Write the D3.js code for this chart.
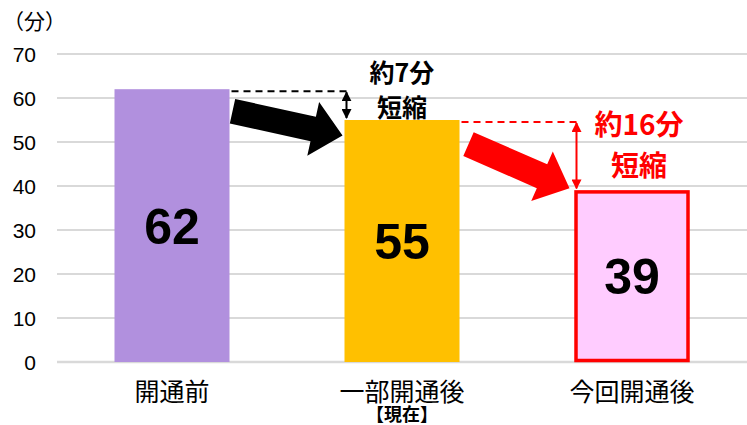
<!DOCTYPE html>
<html>
<head>
<meta charset="utf-8">
<script src="https://cdn.jsdelivr.net/npm/d3@7"></script>
<style>
  body { margin: 0; background: #fff; }
  text { font-family: "Liberation Sans", "Noto Sans CJK JP", sans-serif; }
  .jp { font-family: "Noto Sans CJK JP", sans-serif; }
</style>
</head>
<body>
<div id="chart"></div>
<script>
/* DATA */
const categories = ["開通前", "一部開通後", "今回開通後"];
const values = [62, 55, 39];
const barColors = ["#B190DE", "#FFC000", "#FFCCFF"];
const yTicks = [0, 10, 20, 30, 40, 50, 60, 70];
const unitLabel = "（分）";
const subLabel = "【現在】";
const note1 = ["約7分", "短縮"];
const note2 = ["約16分", "短縮"];

/* LAYOUT */
const width = 747, height = 425;
const margin = { top: 54, right: 0, bottom: 63, left: 57 };

const svg = d3.select("#chart").append("svg")
  .attr("width", width)
  .attr("height", height);

const x = d3.scaleBand()
  .domain(categories)
  .range([margin.left, width - margin.right])
  .paddingInner(0.5)
  .paddingOuter(0.25);

const y = d3.scaleLinear()
  .domain([0, 70])
  .range([height - margin.bottom, margin.top]);

// gridlines
svg.append("g")
  .selectAll("line")
  .data(yTicks)
  .join("line")
  .attr("x1", margin.left)
  .attr("x2", width)
  .attr("y1", d => y(d))
  .attr("y2", d => y(d))
  .attr("stroke", "#D9D9D9")
  .attr("stroke-width", d => d === 0 ? 2.5 : 2);

// y axis labels
svg.append("g")
  .selectAll("text")
  .data(yTicks)
  .join("text")
  .attr("x", 36)
  .attr("y", d => y(d))
  .attr("dy", "0.36em")
  .attr("text-anchor", "end")
  .attr("font-size", 21)
  .attr("fill", "#000")
  .text(d => d);

svg.append("text")
  .attr("class", "jp")
  .attr("x", 3)
  .attr("y", 29)
  .attr("font-size", 21)
  .text(unitLabel);

// bars
const bw = x.bandwidth();
svg.append("g")
  .selectAll("rect")
  .data(values)
  .join("rect")
  .attr("x", (d, i) => x(categories[i]) + (i === 2 ? 1.5 : 0))
  .attr("y", (d, i) => y(d) + (i === 2 ? 1.5 : 0))
  .attr("width", (d, i) => bw - (i === 2 ? 3 : 0))
  .attr("height", (d, i) => y(0) - y(d) - (i === 2 ? 3 : 0))
  .attr("fill", (d, i) => barColors[i])
  .attr("stroke", (d, i) => i === 2 ? "#FF0000" : "none")
  .attr("stroke-width", 3.5);

// value labels
svg.append("g")
  .selectAll("text")
  .data(values)
  .join("text")
  .attr("x", (d, i) => x(categories[i]) + bw / 2)
  .attr("y", d => (y(d) + y(0)) / 2)
  .attr("dy", "0.36em")
  .attr("text-anchor", "middle")
  .attr("font-size", 50)
  .attr("font-weight", "bold")
  .attr("fill", "#000")
  .text(d => d);

// category labels
svg.append("g")
  .selectAll("text")
  .data(categories)
  .join("text")
  .attr("class", "jp")
  .attr("x", d => x(d) + bw / 2)
  .attr("y", 401)
  .attr("text-anchor", "middle")
  .attr("font-size", 25)
  .text(d => d);

svg.append("text")
  .attr("class", "jp")
  .attr("x", x(categories[1]) + bw / 2)
  .attr("y", 421)
  .attr("text-anchor", "middle")
  .attr("font-size", 18)
  .attr("font-weight", "bold")
  .text(subLabel);

/* ANNOTATIONS */
function fatArrow(x0, y0, x1, y1, shaft, head, headLen) {
  const dx = x1 - x0, dy = y1 - y0;
  const len = Math.hypot(dx, dy);
  const ux = dx / len, uy = dy / len;
  const px = -uy, py = ux;
  const bx = x1 - ux * headLen, by = y1 - uy * headLen;
  const pts = [
    [x0 + px * shaft / 2, y0 + py * shaft / 2],
    [bx + px * shaft / 2, by + py * shaft / 2],
    [bx + px * head / 2, by + py * head / 2],
    [x1, y1],
    [bx - px * head / 2, by - py * head / 2],
    [bx - px * shaft / 2, by - py * shaft / 2],
    [x0 - px * shaft / 2, y0 - py * shaft / 2]
  ];
  return pts.map(p => p.join(",")).join(" ");
}

const defs = svg.append("defs");
["black", "red"].forEach(c => {
  defs.append("marker")
    .attr("id", "ah-" + c)
    .attr("viewBox", "0 0 10 10")
    .attr("refX", 9).attr("refY", 5)
    .attr("markerWidth", 5).attr("markerHeight", 5)
    .attr("orient", "auto-start-reverse")
    .append("path")
    .attr("d", "M0,0 L10,5 L0,10 Z")
    .attr("fill", c === "black" ? "#000" : "#FF0000");
});

function annotate(fromIdx, toIdx, color, lines, fontSize, textX, textY, lineGap) {
  const xa = x(categories[fromIdx]) + bw + 2;
  const xb = x(categories[toIdx]) + 2;
  const ya = y(values[fromIdx]) + 2;
  const yb = y(values[toIdx]);
  const m = color === "#000" ? "black" : "red";
  svg.append("line")
    .attr("x1", xa).attr("x2", xb)
    .attr("y1", ya).attr("y2", ya)
    .attr("stroke", color)
    .attr("stroke-width", 2)
    .attr("stroke-dasharray", "7,5");
  svg.append("line")
    .attr("x1", xb).attr("x2", xb)
    .attr("y1", ya + 1).attr("y2", yb - 2)
    .attr("stroke", color)
    .attr("stroke-width", 2)
    .attr("marker-start", `url(#ah-${m})`)
    .attr("marker-end", `url(#ah-${m})`);
  svg.append("text")
    .attr("class", "jp")
    .attr("x", textX)
    .attr("y", textY)
    .attr("text-anchor", "middle")
    .attr("font-size", fontSize)
    .attr("font-weight", "bold")
    .attr("fill", color)
    .selectAll("tspan")
    .data(lines)
    .join("tspan")
    .attr("x", textX)
    .attr("dy", (d, i) => i === 0 ? 0 : lineGap)
    .text(d => d);
}

// black arrow: 開通前 -> 一部開通後
svg.append("polygon")
  .attr("points", fatArrow(
    x(categories[0]) + bw + 3, y(57),
    x(categories[1]) - 2, y(51.5), 25, 55, 30))
  .attr("fill", "#000");

// red arrow: 一部開通後 -> 今回開通後
svg.append("polygon")
  .attr("points", fatArrow(
    x(categories[1]) + bw + 9, y(49.5),
    x(categories[2]) - 5, y(39.5), 26, 54, 30))
  .attr("fill", "#FF0000");

annotate(0, 1, "#000", note1, 25, x(categories[1]) + bw / 2 + 0, 82, 35);
annotate(1, 2, "#FF0000", note2, 28, x(categories[2]) + bw / 2 + 7, 135, 41);
</script>
</body>
</html>
